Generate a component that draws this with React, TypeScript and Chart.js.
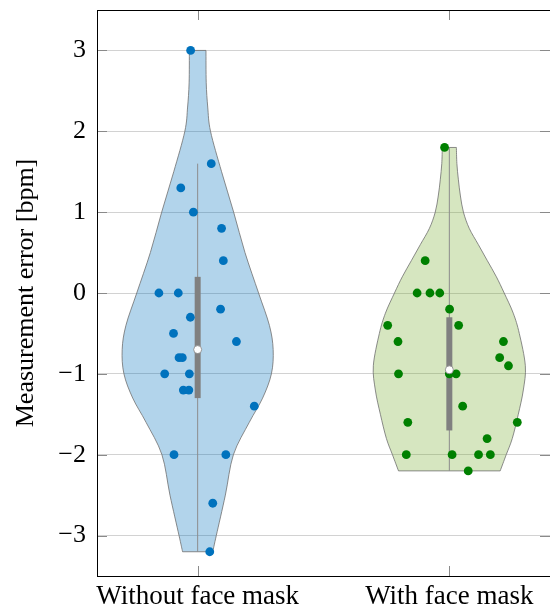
import React, { useEffect, useRef } from 'react';
import { Chart, registerables } from 'chart.js';

Chart.register(...registerables);

// ---------- data ----------
const categories = ['Without face mask', 'With face mask'];
const yTicks = [-3, -2, -1, 0, 1, 2, 3];
const yTitle = 'Measurement error [bpm]';

// measurement errors (bpm) and horizontal jitter (category units)
const withoutValues = [3.0, 1.6, 1.3, 1.0, 0.8, 0.4, 0.0, 0.0, -0.2, -0.3, -0.5, -0.6, -0.8, -0.8, -1.0, -1.0, -1.2, -1.2, -1.4, -2.0, -2.0, -2.6, -3.2];
const withoutJitter = [-0.028, 0.054, -0.067, -0.017, 0.095, 0.102, -0.154, -0.077, 0.091, -0.029, -0.096, 0.154, -0.074, -0.061, -0.131, -0.033, -0.057, -0.035, 0.225, -0.094, 0.112, 0.06, 0.048];

const withValues = [1.8, 0.4, 0.0, 0.0, 0.0, -0.2, -0.4, -0.4, -0.6, -0.6, -0.8, -0.9, -1.0, -1.0, -1.0, -1.4, -1.6, -1.6, -1.8, -2.0, -2.0, -2.0, -2.0, -2.2];
const withJitter = [-0.019, -0.096, -0.128, -0.077, -0.038, 0.001, -0.245, 0.037, -0.204, 0.215, 0.2, 0.235, -0.202, 0.0, 0.027, 0.053, -0.165, 0.27, 0.15, -0.171, 0.011, 0.116, 0.163, 0.075];

// box statistics per category
const medians = [-0.7, -0.95];
const q1 = [-1.3, -1.7];
const q3 = [0.2, -0.3];
const whiskerLow = [-3.2, -2.2];
const whiskerHigh = [1.6, 1.8];

// violin outlines: levels (bpm) and half widths (category units)
const withoutLevels = [3.0, 2.6, 2.3, 2.0, 1.5, 1.0, 0.5, 0.0, -0.4, -0.7, -1.0, -1.3, -1.6, -2.0, -2.5, -3.0, -3.2];
const withoutHalf = [0.033, 0.034, 0.04, 0.051, 0.095, 0.143, 0.188, 0.242, 0.285, 0.3, 0.293, 0.258, 0.205, 0.142, 0.11, 0.074, 0.06];
const withLevels = [1.8, 1.6, 1.4, 1.2, 1.0, 0.8, 0.6, 0.4, 0.2, 0.0, -0.25, -0.5, -0.9, -1.2, -1.5, -1.8, -2.0, -2.2];
const withHalf = [0.028, 0.03, 0.036, 0.044, 0.056, 0.079, 0.115, 0.151, 0.187, 0.218, 0.254, 0.278, 0.302, 0.294, 0.274, 0.25, 0.226, 0.202];

const pointColors = ['#0072BD', '#008000'];
const violinFills = ['rgba(0,114,189,0.3)', 'rgba(119,172,48,0.3)'];

const violins = [
  { levels: withoutLevels, half: withoutHalf },
  { levels: withLevels, half: withHalf },
];

const FONT = '"Liberation Serif", "Times New Roman", serif';

function catmull(ctx: CanvasRenderingContext2D, pts: { x: number; y: number }[]) {
  for (let i = 0; i < pts.length - 1; i++) {
    const p0 = pts[i - 1] || pts[i];
    const p1 = pts[i];
    const p2 = pts[i + 1];
    const p3 = pts[i + 2] || p2;
    ctx.bezierCurveTo(
      p1.x + (p2.x - p0.x) / 6, p1.y + (p2.y - p0.y) / 6,
      p2.x - (p3.x - p1.x) / 6, p2.y - (p3.y - p1.y) / 6,
      p2.x, p2.y
    );
  }
}

const violinPlugin = {
  id: 'violins',
  beforeDatasetsDraw(chart: any) {
    const { ctx, scales } = chart;
    const xs = scales.x, ys = scales.y;
    violins.forEach((v, i) => {
      const c = i + 1;
      const right = v.levels.map((l, k) => ({ x: xs.getPixelForValue(c + v.half[k]), y: ys.getPixelForValue(l) }));
      const left = v.levels.map((l, k) => ({ x: xs.getPixelForValue(c - v.half[k]), y: ys.getPixelForValue(l) })).reverse();
      ctx.save();
      ctx.beginPath();
      ctx.moveTo(right[0].x, right[0].y);
      catmull(ctx, right);
      ctx.lineTo(left[0].x, left[0].y);
      catmull(ctx, left);
      ctx.closePath();
      ctx.fillStyle = violinFills[i];
      ctx.fill();
      ctx.lineWidth = 0.8;
      ctx.strokeStyle = '#6e6e6e';
      ctx.stroke();

      const cx = xs.getPixelForValue(c);
      // whisker
      ctx.beginPath();
      ctx.moveTo(cx, ys.getPixelForValue(whiskerHigh[i]));
      ctx.lineTo(cx, ys.getPixelForValue(whiskerLow[i]));
      ctx.lineWidth = 1;
      ctx.strokeStyle = '#8c8c8c';
      ctx.stroke();
      // box
      const top = ys.getPixelForValue(q3[i]);
      const bot = ys.getPixelForValue(q1[i]);
      ctx.fillStyle = '#808080';
      ctx.fillRect(cx - 3, top, 6, bot - top);
      ctx.restore();
    });
  },
  afterDatasetsDraw(chart: any) {
    const { ctx, scales } = chart;
    const xs = scales.x, ys = scales.y;
    medians.forEach((m, i) => {
      ctx.save();
      ctx.beginPath();
      ctx.arc(xs.getPixelForValue(i + 1), ys.getPixelForValue(m), 4, 0, Math.PI * 2);
      ctx.fillStyle = '#ffffff';
      ctx.fill();
      ctx.lineWidth = 0.8;
      ctx.strokeStyle = '#808080';
      ctx.stroke();
      ctx.restore();
    });
  },
  afterDraw(chart: any) {
    const { ctx, chartArea, scales } = chart;
    const xs = scales.x, ys = scales.y;
    const { left, right, top, bottom } = chartArea;
    ctx.save();
    // inside tick marks
    ctx.strokeStyle = '#8a8a8a';
    ctx.lineWidth = 1;
    ctx.beginPath();
    yTicks.forEach((t) => {
      const py = Math.round(ys.getPixelForValue(t)) + 0.5;
      ctx.moveTo(left, py); ctx.lineTo(left + 10, py);
      ctx.moveTo(right, py); ctx.lineTo(right - 10, py);
    });
    categories.forEach((_, i) => {
      const px = Math.round(xs.getPixelForValue(i + 1)) + 0.5;
      ctx.moveTo(px, bottom); ctx.lineTo(px, bottom - 10);
      ctx.moveTo(px, top); ctx.lineTo(px, top + 10);
    });
    ctx.stroke();
    // axis box
    ctx.strokeStyle = '#000000';
    ctx.beginPath();
    ctx.moveTo(Math.round(left) + 0.5, top);
    ctx.lineTo(Math.round(left) + 0.5, bottom);
    ctx.moveTo(left, Math.round(bottom) + 0.5);
    ctx.lineTo(right, Math.round(bottom) + 0.5);
    ctx.moveTo(left, Math.round(top) + 0.5);
    ctx.lineTo(right, Math.round(top) + 0.5);
    ctx.stroke();
    ctx.restore();
  },
};

const fmt = (v: number) => (v < 0 ? '\u2212' + Math.abs(v) : String(v));

export default function App() {
  const ref = useRef<HTMLCanvasElement | null>(null);
  useEffect(() => {
    document.body.style.margin = '0';
    const canvas = ref.current!;
    const chart = new Chart(canvas, {
      type: 'scatter',
      data: {
        datasets: [
          {
            data: withoutValues.map((v, k) => ({ x: 1 + withoutJitter[k], y: v })),
            backgroundColor: pointColors[0],
            borderColor: pointColors[0],
            pointRadius: 4.4,
            borderWidth: 0,
          },
          {
            data: withValues.map((v, k) => ({ x: 2 + withJitter[k], y: v })),
            backgroundColor: pointColors[1],
            borderColor: pointColors[1],
            pointRadius: 4.4,
            borderWidth: 0,
          },
        ],
      },
      options: {
        animation: false,
        responsive: false,
        devicePixelRatio: 1,
        layout: { autoPadding: false, padding: { top: 10, left: 0, right: 0, bottom: 0 } },
        plugins: { legend: { display: false }, tooltip: { enabled: false } },
        scales: {
          x: {
            type: 'linear',
            position: 'bottom',
            min: 0.6,
            max: 2.4,
            grid: { display: false },
            border: { display: false },
            afterBuildTicks: (s: any) => { s.ticks = categories.map((_, i) => ({ value: i + 1 })); },
            afterFit: (s: any) => { s.height = 31; s.paddingLeft = 0; s.paddingRight = 0; },
            ticks: {
              autoSkip: false,
              maxRotation: 0,
              padding: -3,
              color: '#000',
              font: { family: FONT, size: 27 },
              callback: (v: any) => categories[Math.round(v) - 1] ?? '',
            },
          },
          y: {
            type: 'linear',
            min: -3.5,
            max: 3.5,
            grid: { color: '#d2d2d2', drawTicks: false, lineWidth: 1 },
            border: { display: false },
            afterBuildTicks: (s: any) => { s.ticks = yTicks.map((v) => ({ value: v })); },
            afterFit: (s: any) => { s.width = 97; s.paddingTop = 0; s.paddingBottom = 0; },
            ticks: {
              padding: 11,
              color: '#000',
              font: { family: FONT, size: 26 },
              callback: (v: any) => fmt(Number(v)),
            },
            title: {
              display: true,
              text: yTitle,
              color: '#000',
              font: { family: FONT, size: 26 },
              padding: { top: 11, bottom: 0 },
            },
          },
        },
      },
      plugins: [violinPlugin],
    } as any);
    return () => chart.destroy();
  }, []);
  return <canvas ref={ref} width={550} height={607} style={{ display: 'block' }} />;
}
